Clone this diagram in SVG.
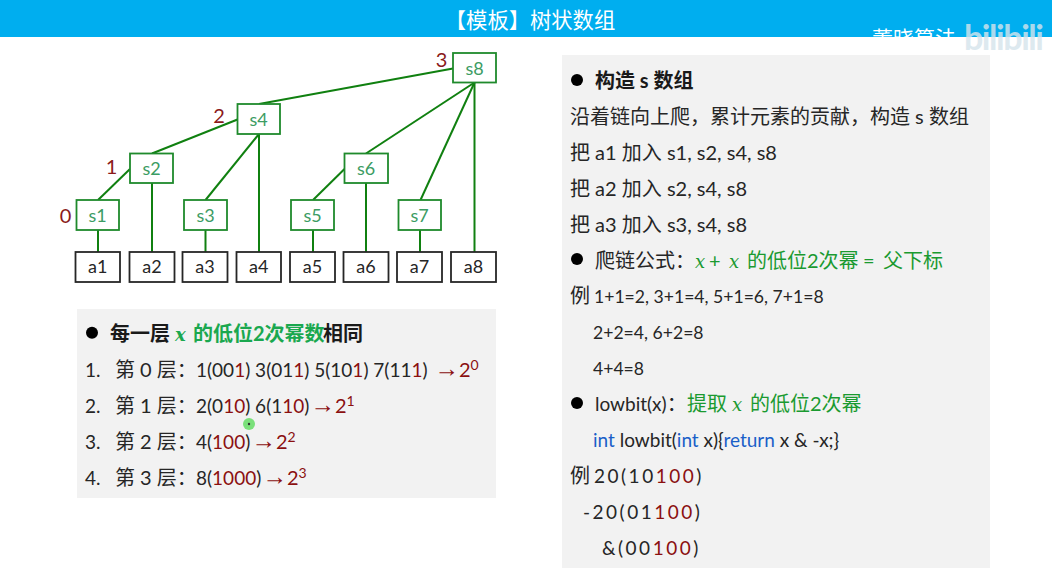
<svg xmlns="http://www.w3.org/2000/svg" width="1052" height="584" viewBox="0 0 1052 584">
<style>
text{font-family:"Lato","Noto Sans CJK SC","Noto Sans",sans-serif;font-size:20px;fill:#262626}
.n rect{fill:#fff;stroke:#1f8a2c;stroke-width:1.8}
.n text{fill:#3c9c63;font-size:18px;text-anchor:middle}
.a rect{fill:#fff;stroke:#262626;stroke-width:1.8}
.a text{fill:#262626;font-size:18px;text-anchor:middle}
.lv{fill:#8b1a1a;font-size:20px;text-anchor:middle}
.c line{stroke:#108010;stroke-width:2}
.l{font-size:19px}.k{font-size:17.6px}
.r{fill:#8b1010}.g{fill:#1a9a30}.gb{fill:#1aa84f;font-weight:700}.b{font-weight:700;fill:#1a1a1a}
.m{font-family:"DejaVu Serif","Liberation Serif",serif;font-style:italic;font-size:18px}
.blue{fill:#1a5fc8}
.sup{font-size:14px}
.ar{font-family:"Liberation Sans",sans-serif;fill:#8b1010;font-size:24.500px}
</style>
<rect width="1052" height="584" fill="#fff"/>
<rect width="1052" height="37" fill="#00aeef"/>
<text x="530" y="28" text-anchor="middle" style="fill:#fff;font-size:21.300px">【模板】树状数组</text>
<g id="watermark"><text x="872" y="46" style="fill:#fff;font-size:21px" textLength="84">董晓算法</text><text x="964" y="50" style="fill:#d5e4ec;font-size:34px;font-weight:700;opacity:.8" textLength="80">bilibili</text></g>
<rect x="77" y="309" width="419" height="189" fill="#f2f2f2"/>
<rect x="562" y="55" width="428" height="513" fill="#f2f2f2"/>
<g id="connectors" class="c">
<line x1="453" y1="68.500" x2="259" y2="104"/><line x1="237.500" y1="119.500" x2="152" y2="153.500"/><line x1="130" y1="169" x2="98" y2="200"/>
<line x1="259" y1="134" x2="205.500" y2="200"/><line x1="259" y1="134" x2="259" y2="252"/>
<line x1="152" y1="183" x2="152" y2="252"/><line x1="98" y1="230" x2="98" y2="252"/><line x1="205.500" y1="230" x2="205.500" y2="252"/><line x1="313" y1="230" x2="313" y2="252"/>
<line x1="344.500" y1="169" x2="313" y2="200"/><line x1="366" y1="183" x2="366" y2="252"/><line x1="420" y1="230" x2="420" y2="252"/>
<line x1="474.500" y1="82.500" x2="366" y2="153.500"/><line x1="474.500" y1="82.500" x2="420.500" y2="200"/><line x1="474.500" y1="82.500" x2="474.500" y2="252"/>
</g>
<g id="s8" class="n"><rect x="453" y="53" width="43" height="29.500"/><text x="474.500" y="74.500">s8</text></g>
<g id="s4" class="n"><rect x="237.500" y="104" width="42.500" height="30"/><text x="258.700" y="125.500">s4</text></g>
<g id="s2" class="n"><rect x="130" y="153.500" width="43" height="29.500"/><text x="151.500" y="175">s2</text></g>
<g id="s6" class="n"><rect x="344.500" y="153.500" width="43.500" height="29.500"/><text x="366" y="175">s6</text></g>
<g id="s1" class="n"><rect x="76.500" y="200" width="42.500" height="30"/><text x="97.700" y="222">s1</text></g>
<g id="s3" class="n"><rect x="184" y="200" width="43" height="30"/><text x="205.500" y="222">s3</text></g>
<g id="s5" class="n"><rect x="291" y="200" width="43" height="30"/><text x="312.500" y="222">s5</text></g>
<g id="s7" class="n"><rect x="398.500" y="200" width="42.500" height="30"/><text x="419.700" y="222">s7</text></g>
<g id="a1" class="a"><rect x="75.500" y="252" width="44.500" height="30"/><text x="97.700" y="273">a1</text></g>
<g id="a2" class="a"><rect x="129.500" y="252" width="45" height="30"/><text x="152" y="273">a2</text></g>
<g id="a3" class="a"><rect x="182.500" y="252" width="45" height="30"/><text x="205" y="273">a3</text></g>
<g id="a4" class="a"><rect x="236.500" y="252" width="44.500" height="30"/><text x="258.700" y="273">a4</text></g>
<g id="a5" class="a"><rect x="290" y="252" width="45" height="30"/><text x="312.500" y="273">a5</text></g>
<g id="a6" class="a"><rect x="343.500" y="252" width="45" height="30"/><text x="366" y="273">a6</text></g>
<g id="a7" class="a"><rect x="397" y="252" width="45" height="30"/><text x="419.500" y="273">a7</text></g>
<g id="a8" class="a"><rect x="451" y="252" width="45" height="30"/><text x="473.500" y="273">a8</text></g>
<text class="lv" x="65.500" y="223">0</text><text class="lv" x="111.500" y="174">1</text><text class="lv" x="219" y="123">2</text><text class="lv" x="441.500" y="67">3</text>
<g id="left-text">
<circle cx="92" cy="332.700" r="6" fill="#000"/>
<text x="110" y="341" class="b">每一层</text><text x="175" y="341" class="m" style="fill:#1aa84f;font-weight:700">x</text><text x="193" y="341" class="gb">的低位2次幂数</text><text x="323" y="341" class="b">相同</text>
<text x="85" y="377" class="l">1.</text><text x="115" y="377">第 0 层：</text><text x="196" y="377" class="l">1(00<tspan class="r">1</tspan>) 3(01<tspan class="r">1</tspan>) 5(10<tspan class="r">1</tspan>) 7(11<tspan class="r">1</tspan>)</text><text x="434.500" y="377" class="r"><tspan class="ar">→</tspan><tspan>2</tspan><tspan class="sup" dy="-7">0</tspan></text>
<text x="85" y="413" class="l">2.</text><text x="115" y="413">第 1 层：</text><text x="196" y="413" class="l">2(0<tspan class="r">10</tspan>) 6(1<tspan class="r">10</tspan>)</text><text x="310.500" y="413" class="r"><tspan class="ar">→</tspan><tspan>2</tspan><tspan class="sup" dy="-7">1</tspan></text>
<text x="85" y="449" class="l">3.</text><text x="115" y="449">第 2 层：</text><text x="196" y="449" class="l">4(<tspan class="r">100</tspan>)</text><text x="251.500" y="449" class="r"><tspan class="ar">→</tspan><tspan>2</tspan><tspan class="sup" dy="-7">2</tspan></text>
<text x="85" y="485" class="l">4.</text><text x="115" y="485">第 3 层：</text><text x="196" y="485" class="l">8(<tspan class="r">1000</tspan>)</text><text x="262.500" y="485" class="r"><tspan class="ar">→</tspan><tspan>2</tspan><tspan class="sup" dy="-7">3</tspan></text>
<circle cx="249" cy="424" r="6" fill="#7be07b"/><circle cx="249" cy="424" r="1.200" fill="#333"/>
</g>
<g id="right-text">
<circle cx="577" cy="80" r="6" fill="#000"/>
<text x="595" y="88" class="b">构造 s 数组</text>
<text x="570" y="124">沿着链向上爬，累计元素的贡献，构造 s 数组</text>
<text x="570" y="160">把 a1 加入 s1, s2, s4, s8</text>
<text x="570" y="196">把 a2 加入 s2, s4, s8</text>
<text x="570" y="232">把 a3 加入 s3, s4, s8</text>
<circle cx="577" cy="259" r="6" fill="#000"/>
<text x="595" y="268">爬链公式：</text><text x="695" y="268" class="m g">x</text><text x="709" y="268" class="g">+</text><text x="729" y="268" class="m g">x</text><text x="747" y="268" class="g">的低位2次幂</text><text x="863" y="268" class="g">=</text><text x="883" y="268" class="g">父下标</text>
<text x="570" y="303">例</text><text x="594" y="303" class="k">1+1=2, 3+1=4, 5+1=6, 7+1=8</text>
<text x="593" y="339" class="k">2+2=4, 6+2=8</text>
<text x="593" y="375" class="k">4+4=8</text>
<circle cx="577" cy="403" r="6" fill="#000"/>
<text x="595" y="411"><tspan class="l">lowbit(x)</tspan>：</text><text x="687" y="411" class="g">提取</text><text x="732" y="411" class="m g">x</text><text x="750" y="411" class="g">的低位2次幂</text>
<text x="593" y="447" class="l"><tspan class="blue">int</tspan> lowbit(<tspan class="blue">int</tspan> x){<tspan class="blue">return</tspan> x &amp; -x;}</text>
<text x="570" y="483">例</text><text x="594" y="483" class="l" letter-spacing="2.500">20(10<tspan class="r">100</tspan>)</text>
<text x="583" y="519" class="l" letter-spacing="2.500">-20(01<tspan class="r">100</tspan>)</text>
<text x="602" y="555" class="l" letter-spacing="2.500">&amp;(00<tspan class="r">100</tspan>)</text>
</g>
</svg>
